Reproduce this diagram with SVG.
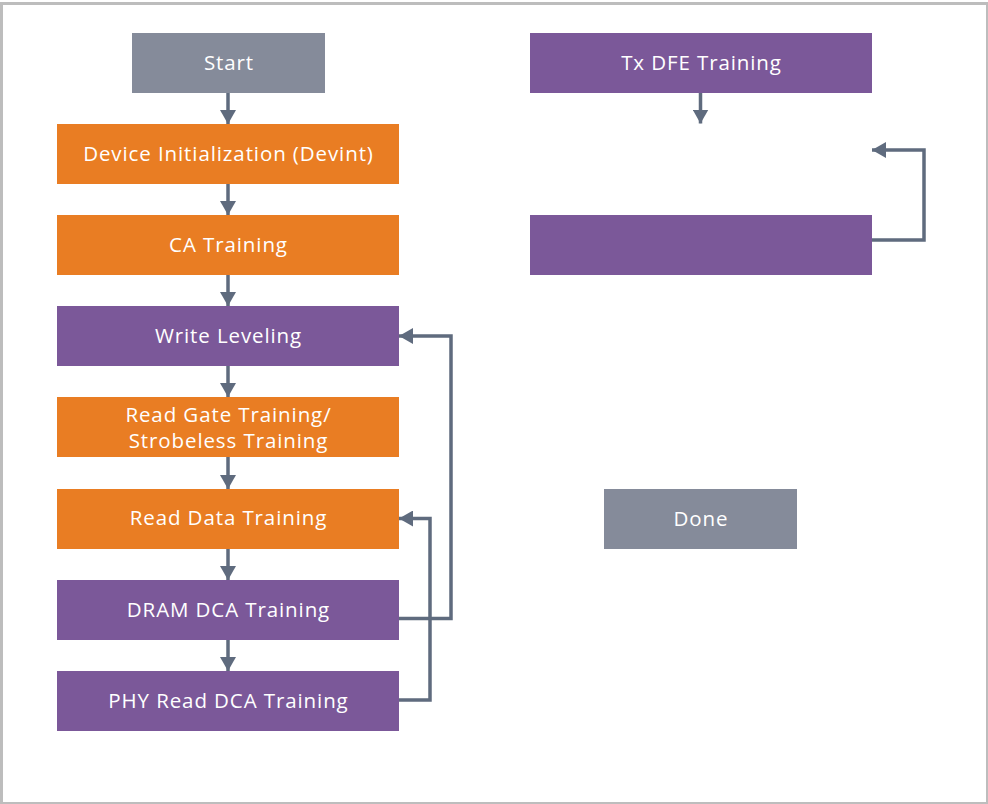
<svg xmlns="http://www.w3.org/2000/svg" width="988" height="804" viewBox="0 0 988 804">
  <defs>
    <style>
      .frame { fill: #ffffff; stroke: #bdbdbd; stroke-width: 3; }
      .gray { fill: #858b9a; }
      .orange { fill: #e97d23; }
      .purple { fill: #7b5899; }
      .label { fill: #ffffff; font-family: "Open Sans", "Noto Sans", "Liberation Sans", sans-serif; font-size: 20.5px; letter-spacing: 0.9px; text-anchor: middle; }
      .wire { fill: none; stroke: #5f6b7e; stroke-width: 3.5; stroke-linejoin: miter; }
    </style>
    <marker id="head" markerUnits="userSpaceOnUse" markerWidth="16" markerHeight="16" refX="14" refY="8" orient="auto">
      <path d="M0 0 L14 8 L0 16 Z" fill="#5f6b7e"/>
    </marker>
  </defs>

  <rect class="frame" x="1.5" y="3.5" width="986" height="800"/>

  <!-- left column: training sequence -->
  <g id="start">
    <rect class="gray" x="132" y="33" width="193" height="60"/>
    <text class="label" x="229" y="70">Start</text>
  </g>
  <g id="devint">
    <rect class="orange" x="57" y="124" width="342" height="60"/>
    <text class="label" x="228.5" y="161">Device Initialization (Devint)</text>
  </g>
  <g id="ca-training">
    <rect class="orange" x="57" y="215" width="342" height="60"/>
    <text class="label" x="228.5" y="252">CA Training</text>
  </g>
  <g id="write-leveling">
    <rect class="purple" x="57" y="306" width="342" height="60"/>
    <text class="label" x="228.5" y="343">Write Leveling</text>
  </g>
  <g id="read-gate">
    <rect class="orange" x="57" y="397" width="342" height="60"/>
    <text class="label" x="228.5" y="421.5">Read Gate Training/</text>
    <text class="label" x="228.5" y="447.5">Strobeless Training</text>
  </g>
  <g id="read-data">
    <rect class="orange" x="57" y="489" width="342" height="60"/>
    <text class="label" x="228.5" y="525">Read Data Training</text>
  </g>
  <g id="dram-dca">
    <rect class="purple" x="57" y="580" width="342" height="60"/>
    <text class="label" x="228.5" y="617">DRAM DCA Training</text>
  </g>
  <g id="phy-read-dca">
    <rect class="purple" x="57" y="671" width="342" height="60"/>
    <text class="label" x="228.5" y="708">PHY Read DCA Training</text>
  </g>

  <!-- right column -->
  <g id="tx-dfe">
    <rect class="purple" x="530" y="33" width="342" height="60"/>
    <text class="label" x="701.5" y="70">Tx DFE Training</text>
  </g>
  <g id="tx-step">
    <rect class="purple" x="530" y="215" width="342" height="60"/>
  </g>
  <g id="done">
    <rect class="gray" x="604" y="489" width="193" height="60"/>
    <text class="label" x="701" y="526">Done</text>
  </g>

  <!-- connectors -->
  <g id="connectors">
    <path class="wire" marker-end="url(#head)" d="M228 93 V124"/>
    <path class="wire" marker-end="url(#head)" d="M228 184 V215"/>
    <path class="wire" marker-end="url(#head)" d="M228 275 V306"/>
    <path class="wire" marker-end="url(#head)" d="M228 366 V397"/>
    <path class="wire" marker-end="url(#head)" d="M228 457 V489"/>
    <path class="wire" marker-end="url(#head)" d="M228 549 V580"/>
    <path class="wire" marker-end="url(#head)" d="M228 640 V671"/>
    <path class="wire" marker-end="url(#head)" d="M399 618.5 H451 V336 H399"/>
    <path class="wire" marker-end="url(#head)" d="M399 700 H430 V518.5 H399"/>
    <path class="wire" marker-end="url(#head)" d="M700.5 93 V123.5"/>
    <path class="wire" marker-end="url(#head)" d="M872 240 H924 V150 H872"/>
  </g>
</svg>
